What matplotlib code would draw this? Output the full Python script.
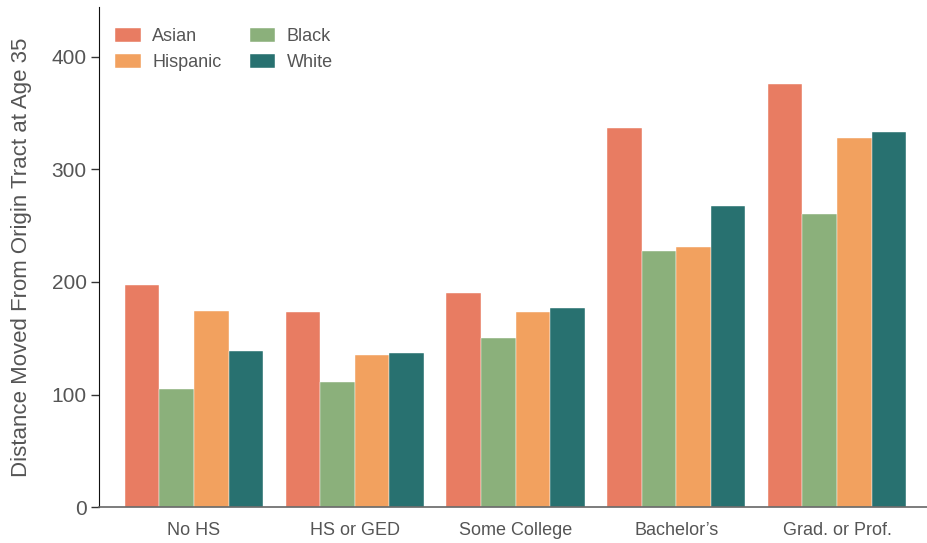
import matplotlib.pyplot as plt
import numpy as np

plt.rcParams['font.family'] = ['Liberation Sans', 'DejaVu Sans']

categories = ["No HS", "HS or GED", "Some College", "Bachelor\u2019s", "Grad. or Prof."]
groups = ["Asian", "Black", "Hispanic", "White"]
asian = [197, 173, 190, 337, 376]
black = [105, 111, 150, 227, 260]
hispanic = [174, 135, 173, 231, 328]
white = [139, 137, 177, 267, 333]
colors = {"Asian": "#E87C62", "Black": "#8BB07B", "Hispanic": "#F2A15F", "White": "#287170"}

series = {"Asian": asian, "Black": black, "Hispanic": hispanic, "White": white}

fig = plt.figure(figsize=(9.27, 5.43), dpi=100)
ax = fig.add_axes([0.107, 0.066, 0.893, 0.921])

x = np.arange(len(categories))
w = 0.215
bars = {}
for i, g in enumerate(groups):
    bars[g] = ax.bar(x + (i - 1.5) * w, series[g], width=w, color=colors[g],
                     edgecolor="white", linewidth=0.3, label=g)

ax.set_xlim(-0.59, 4.56)
ax.set_ylim(0, 444)
ax.set_yticks([0, 100, 200, 300, 400])
ax.set_xticks(x)
ax.set_xticklabels(categories)

txt = "#555555"
ax.tick_params(axis="y", labelsize=15, colors=txt, length=6, width=1, pad=3)
ax.tick_params(axis="y", color="#333333")
ax.tick_params(axis="x", labelsize=13, colors=txt, length=0, pad=11)
ax.set_ylabel("Distance Moved From Origin Tract at Age 35", fontsize=16, color=txt, labelpad=14)

for s in ["top", "right"]:
    ax.spines[s].set_visible(False)
ax.spines["left"].set_color("#111111")
ax.spines["bottom"].set_color("#666666")
ax.spines["bottom"].set_linewidth(1.2)

order = ["Asian", "Hispanic", "Black", "White"]
ax.legend([bars[g] for g in order], order, ncol=2, frameon=False, fontsize=13,
          loc="upper left", bbox_to_anchor=(0.0, 0.99), handlelength=1.4,
          handleheight=0.75, handletextpad=0.65, columnspacing=1.55,
          labelspacing=0.5, labelcolor=txt)

fig.savefig("out.png", dpi=100)
